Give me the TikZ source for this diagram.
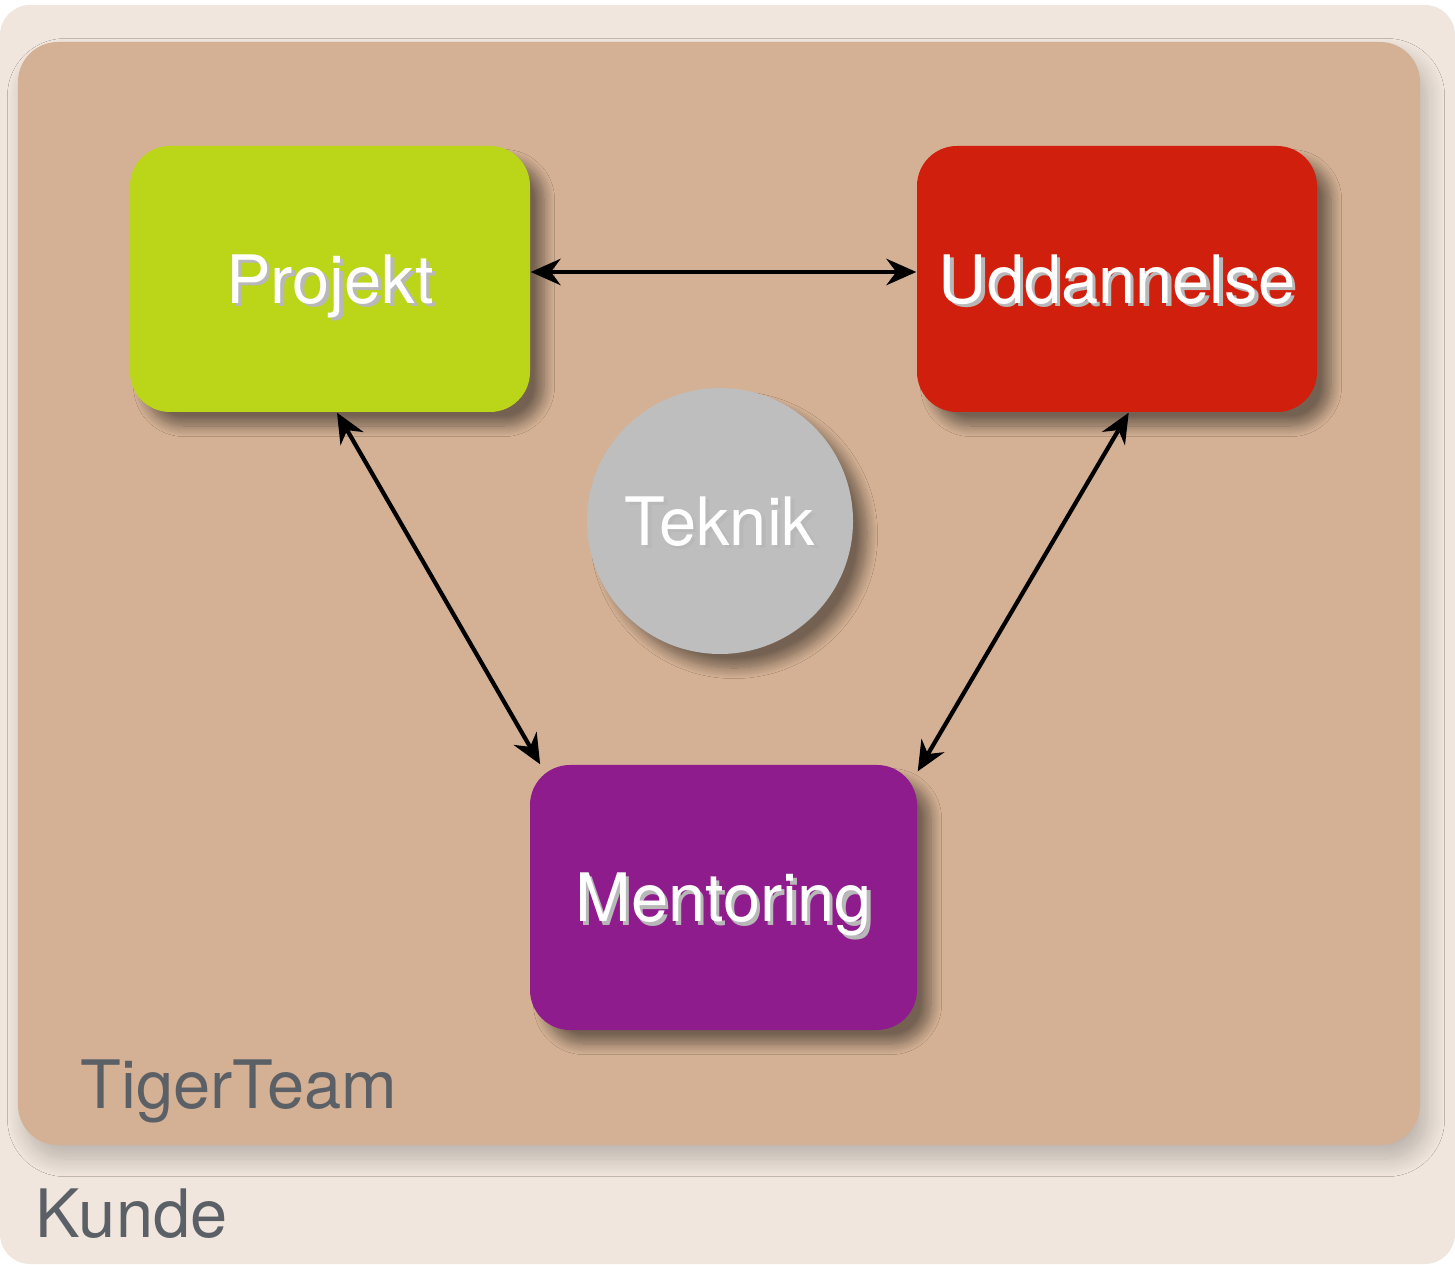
\documentclass[tikz,border=0pt]{standalone}
\usepackage{fontspec}
\setmainfont{TeX Gyre Heros}
\usetikzlibrary{arrows.meta,shadows.blur}

\definecolor{kundefill}{HTML}{F0E6DD}
\definecolor{tigerfill}{HTML}{D4B194}
\definecolor{projektgreen}{HTML}{BBD518}
\definecolor{uddred}{HTML}{D01F0D}
\definecolor{mentorpurple}{HTML}{8F1C8D}
\definecolor{teknikgray}{HTML}{BEBEBE}
\definecolor{labelgray}{HTML}{5B6067}

% white text with a soft dark copy behind it
\newcommand{\shadowtext}[1]{%
  \makebox[0pt][l]{\hspace{1pt}\raisebox{-1pt}{\color{black!28}#1}}#1}

\tikzset{
  areabox/.style={rounded corners=0.4cm, draw=none},
  activity/.style={rounded corners=0.4cm, draw=none, text=white,
    minimum width=4cm, minimum height=2.66cm,
    text height=13.7pt, text depth=0pt,
    font=\fontsize{19}{23}\selectfont,
    blur shadow={shadow xshift=4pt, shadow yshift=-4pt,
      shadow blur radius=3pt, shadow blur steps=12, shadow opacity=45}},
  arealabel/.style={anchor=base west, inner sep=0pt, text=labelgray,
    font=\fontsize{19}{23}\selectfont},
  link/.style={{Stealth[length=8.5pt,width=7.5pt]}-{Stealth[length=8.5pt,width=7.5pt]},
    line width=1.2pt, black}
}

\begin{document}
\begin{tikzpicture}

    \useasboundingbox (0,0) rectangle (14.55,12.64);

    % --- Areas ---
    \fill[kundefill, rounded corners=0.3cm] (0,0) rectangle (14.55,12.59);
    \fill[tigerfill, areabox,
      blur shadow={shadow xshift=2pt, shadow yshift=-4pt,
        shadow blur radius=5pt, shadow blur steps=14, shadow opacity=22}]
      (0.18,1.19) rectangle (14.20,12.22);

    \node[arealabel] (tiger) at (0.80,1.56) {TigerTeam};
    \node[arealabel] (kunde) at (0.35,0.27) {Kunde};

    % --- Activities ---
    \node[activity, fill=projektgreen] (projekt) at (3.30,9.85) {\shadowtext{Projekt}};
    \node[activity, fill=uddred] (udd) at (11.17,9.85) {\shadowtext{Uddannelse}};
    \node[activity, fill=mentorpurple, minimum width=3.87cm, minimum height=2.65cm]
      (mentor) at (7.235,3.665) {\shadowtext{Mentoring}};
    \node[activity, circle, fill=teknikgray, minimum size=2.66cm,
      minimum width=2.66cm, minimum height=2.66cm, inner sep=0pt]
      (teknik) at (7.20,7.43) {\shadowtext{Teknik}};

    % --- Links ---
    \draw[link] (projekt.2) -- (udd.178);
    \draw[link] (projekt.-87.8) -- (mentor.144.8);
    \draw[link] (udd.-85.7) -- (mentor.33.9);

\end{tikzpicture}
\end{document}
